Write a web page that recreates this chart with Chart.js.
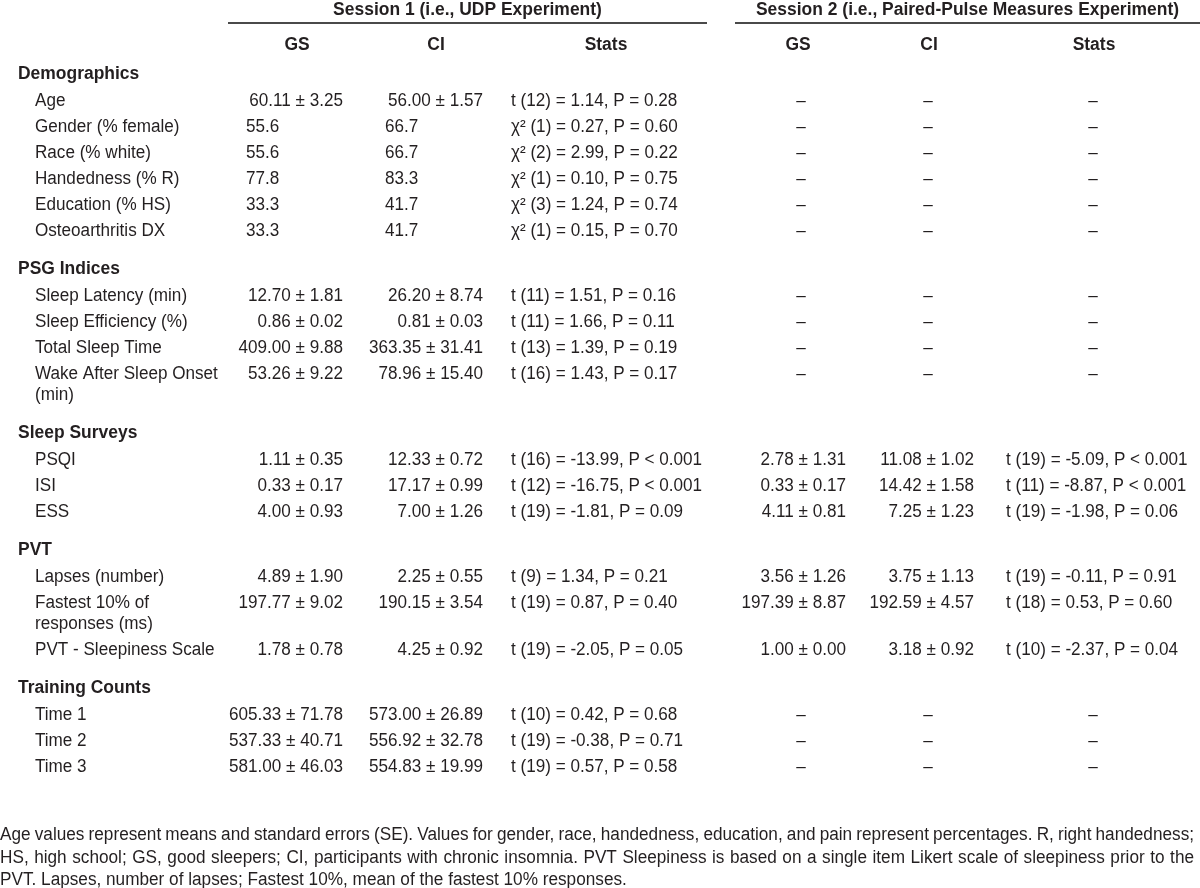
<!DOCTYPE html>
<html>
<head>
<meta charset="utf-8">
<script src="https://cdn.jsdelivr.net/npm/chart.js@4/dist/chart.umd.min.js"></script>
<style>
html,body{margin:0;padding:0;background:#fff;}
#wrap{width:1200px;height:888px;}
</style>
</head>
<body>
<div id="wrap"><canvas id="c" width="1200" height="888"></canvas></div>
<script>
// ---------------- DATA ----------------
const sessionTitles = ['Session 1 (i.e., UDP Experiment)', 'Session 2 (i.e., Paired-Pulse Measures Experiment)'];
const columnHeaders = ['GS', 'CI', 'Stats', 'GS', 'CI', 'Stats'];
const sections = ['Demographics', 'PSG Indices', 'Sleep Surveys', 'PVT', 'Training Counts'];
const rowSection = [0,0,0,0,0,0, 1,1,1,1, 2,2,2, 3,3,3, 4,4,4];
const rowLabels = [
  'Age', 'Gender (% female)', 'Race (% white)', 'Handedness (% R)', 'Education (% HS)', 'Osteoarthritis DX',
  'Sleep Latency (min)', 'Sleep Efficiency (%)', 'Total Sleep Time', 'Wake After Sleep Onset\n(min)',
  'PSQI', 'ISI', 'ESS',
  'Lapses (number)', 'Fastest 10% of\nresponses (ms)', 'PVT - Sleepiness Scale',
  'Time 1', 'Time 2', 'Time 3'
];
const gs1 = [
  '60.11 ± 3.25', '55.6', '55.6', '77.8', '33.3', '33.3',
  '12.70 ± 1.81', '0.86 ± 0.02', '409.00 ± 9.88', '53.26 ± 9.22',
  '1.11 ± 0.35', '0.33 ± 0.17', '4.00 ± 0.93',
  '4.89 ± 1.90', '197.77 ± 9.02', '1.78 ± 0.78',
  '605.33 ± 71.78', '537.33 ± 40.71', '581.00 ± 46.03'
];
const ci1 = [
  '56.00 ± 1.57', '66.7', '66.7', '83.3', '41.7', '41.7',
  '26.20 ± 8.74', '0.81 ± 0.03', '363.35 ± 31.41', '78.96 ± 15.40',
  '12.33 ± 0.72', '17.17 ± 0.99', '7.00 ± 1.26',
  '2.25 ± 0.55', '190.15 ± 3.54', '4.25 ± 0.92',
  '573.00 ± 26.89', '556.92 ± 32.78', '554.83 ± 19.99'
];
const stats1 = [
  't (12) = 1.14, P = 0.28', 'χ² (1) = 0.27, P = 0.60', 'χ² (2) = 2.99, P = 0.22', 'χ² (1) = 0.10, P = 0.75', 'χ² (3) = 1.24, P = 0.74', 'χ² (1) = 0.15, P = 0.70',
  't (11) = 1.51, P = 0.16', 't (11) = 1.66, P = 0.11', 't (13) = 1.39, P = 0.19', 't (16) = 1.43, P = 0.17',
  't (16) = -13.99, P < 0.001', 't (12) = -16.75, P < 0.001', 't (19) = -1.81, P = 0.09',
  't (9) = 1.34, P = 0.21', 't (19) = 0.87, P = 0.40', 't (19) = -2.05, P = 0.05',
  't (10) = 0.42, P = 0.68', 't (19) = -0.38, P = 0.71', 't (19) = 0.57, P = 0.58'
];
const gs2 = [
  '–', '–', '–', '–', '–', '–',
  '–', '–', '–', '–',
  '2.78 ± 1.31', '0.33 ± 0.17', '4.11 ± 0.81',
  '3.56 ± 1.26', '197.39 ± 8.87', '1.00 ± 0.00',
  '–', '–', '–'
];
const ci2 = [
  '–', '–', '–', '–', '–', '–',
  '–', '–', '–', '–',
  '11.08 ± 1.02', '14.42 ± 1.58', '7.25 ± 1.23',
  '3.75 ± 1.13', '192.59 ± 4.57', '3.18 ± 0.92',
  '–', '–', '–'
];
const stats2 = [
  '–', '–', '–', '–', '–', '–',
  '–', '–', '–', '–',
  't (19) = -5.09, P < 0.001', 't (11) = -8.87, P < 0.001', 't (19) = -1.98, P = 0.06',
  't (19) = -0.11, P = 0.91', 't (18) = 0.53, P = 0.60', 't (10) = -2.37, P = 0.04',
  '–', '–', '–'
];
const footnote = [
  'Age values represent means and standard errors (SE). Values for gender, race, handedness, education, and pain represent percentages. R, right handedness;',
  'HS, high school; GS, good sleepers; CI, participants with chronic insomnia. PVT Sleepiness is based on a single item Likert scale of sleepiness prior to the',
  'PVT. Lapses, number of lapses; Fastest 10%, mean of the fastest 10% responses.'
];

// ---------------- LAYOUT ----------------
const W = 1200, H = 888;
const INK = '#231f20';
const FONT = '"Liberation Sans", Arial, Helvetica, sans-serif';
const L = {
  titleY: 15, ruleY: 23, headY: 50,
  firstSection: 79, headToRow: 27, rowStep: 26, wrapStep: 21, sectionGap: 38,
  sectionX: 18, labelX: 35,
  rules: [[228, 707], [735, 1200]],
  headX: [297, 436, 606, 798, 929, 1094],
  col: [
    {pm: 343, plain: 246, dash: 297},
    {pm: 483, plain: 385, dash: 436},
    {statLeft: 511, dash: 606},
    {pm: 846, plain: 760, dash: 801},
    {pm: 974, plain: 880, dash: 928},
    {statLeft: 1006, dash: 1093}
  ],
  footY: [840, 863, 885], footX: 0, footRight: 1194
};
const sxBody = 0.95, sxBold = 0.97, sxFoot = 0.955;

// build text cells (positions computed from layout rules)
const cells = [];
L.rules.forEach((r, i) => cells.push({x: (r[0] + r[1]) / 2, y: L.titleY, text: sessionTitles[i], align: 'center', bold: true, sx: sxBold}));
columnHeaders.forEach((h, i) => cells.push({x: L.headX[i], y: L.headY, text: h, align: 'center', bold: true, sx: sxBold}));

const cols = [gs1, ci1, stats1, gs2, ci2, stats2];
let y = L.firstSection, prevSec = -1, prevLines = 1;
rowLabels.forEach((lab, r) => {
  const s = rowSection[r];
  if (s !== prevSec) {
    if (prevSec >= 0) y += (prevLines - 1) * L.wrapStep + L.sectionGap;
    cells.push({x: L.sectionX, y: y, text: sections[s], align: 'left', bold: true, sx: sxBold});
    y += L.headToRow;
    prevSec = s;
  } else {
    y += (prevLines - 1) * L.wrapStep + L.rowStep;
  }
  const lines = lab.split('\n');
  lines.forEach((ln, k) => cells.push({x: L.labelX, y: y + k * L.wrapStep, text: ln, align: 'left', bold: false, sx: sxBody}));
  cols.forEach((arr, c) => {
    const t = arr[r];
    const spec = L.col[c];
    let x, align;
    if (t === '–') { x = spec.dash; align = 'center'; }
    else if (spec.statLeft !== undefined) { x = spec.statLeft; align = 'left'; }
    else if (t.indexOf('±') >= 0) { x = spec.pm; align = 'right'; }
    else { x = spec.plain; align = 'left'; }
    cells.push({x: x, y: y, text: t, align: align, bold: false, sx: sxBody});
  });
  prevLines = lines.length;
});
footnote.forEach((t, i) => cells.push({x: L.footX, y: L.footY[i], text: t, align: 'left', bold: false, sx: sxFoot, justify: i < footnote.length - 1}));

// ---------------- CHART ----------------
const textPlugin = {
  id: 'tableText',
  afterDatasetsDraw(chart) {
    const ctx = chart.ctx;
    const meta = chart.getDatasetMeta(0);
    const right = chart.scales.x.getPixelForValue(L.footRight);
    meta.data.forEach((el, i) => {
      const c = cells[i];
      ctx.save();
      ctx.fillStyle = INK;
      ctx.textBaseline = 'alphabetic';
      ctx.font = (c.bold ? 'bold ' : '') + '18px ' + FONT;
      if (c.justify) {
        const words = c.text.split(' ');
        const widths = words.map(w => ctx.measureText(w).width * c.sx);
        const total = widths.reduce((a, b) => a + b, 0);
        const gap = (right - el.x - total) / (words.length - 1);
        let cx = el.x;
        ctx.textAlign = 'left';
        words.forEach((w, k) => {
          ctx.save();
          ctx.translate(cx, el.y);
          ctx.scale(c.sx, 1);
          ctx.fillText(w, 0, 0);
          ctx.restore();
          cx += widths[k] + gap;
        });
      } else {
        ctx.textAlign = c.align;
        ctx.translate(el.x, el.y);
        ctx.scale(c.sx, 1);
        ctx.fillText(c.text, 0, 0);
      }
      ctx.restore();
    });
  }
};

const ruleSets = L.rules.map(r => ({
  type: 'line',
  data: [{x: r[0], y: L.ruleY}, {x: r[1], y: L.ruleY}],
  borderColor: '#4a4a4a', borderWidth: 2, pointRadius: 0, showLine: true, fill: false
}));

new Chart(document.getElementById('c'), {
  type: 'scatter',
  data: {
    datasets: [
      {data: cells.map(c => ({x: c.x, y: c.y})), pointRadius: 0, pointHoverRadius: 0, showLine: false},
      ...ruleSets
    ]
  },
  options: {
    responsive: false,
    animation: false,
    events: [],
    devicePixelRatio: 1,
    layout: {padding: 0},
    plugins: {legend: {display: false}, tooltip: {enabled: false}},
    scales: {
      x: {type: 'linear', min: 0, max: W, display: false},
      y: {type: 'linear', min: 0, max: H, reverse: true, display: false}
    }
  },
  plugins: [textPlugin]
});
</script>
</body>
</html>
